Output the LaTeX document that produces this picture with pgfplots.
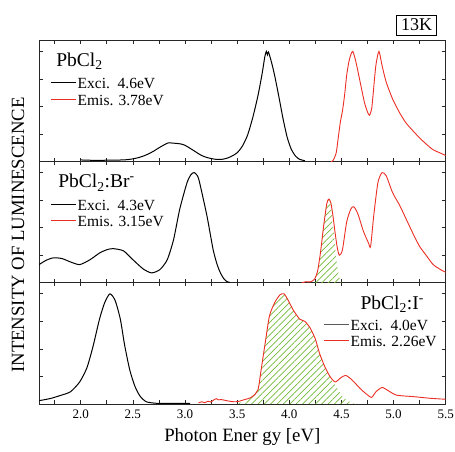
\documentclass[border=0pt]{standalone}
\usepackage{fontspec}
\setmainfont{Liberation Serif}
\usepackage{pgfplots}
\pgfplotsset{compat=1.18}
\usetikzlibrary{patterns.meta}
\definecolor{myred}{RGB}{235,45,35}
\definecolor{mygreen}{RGB}{115,185,55}
\definecolor{leggray}{RGB}{90,90,90}

\pgfplotsset{
  panel/.style={
    scale only axis, width=406.7pt, height=121.2pt,
    anchor=south west,
    xmin=1.6, xmax=5.5, ymin=0, ymax=1.1,
    xtick={2.0,2.5,3.0,3.5,4.0,4.5,5.0,5.5},
    minor xtick={1.75,2.25,2.75,3.25,3.75,4.25,4.75,5.25},
    ytick={0.25,0.5,0.75,1.0}, yticklabels={}, xticklabels={},
    tick align=inside, major tick length=3.5pt, minor tick length=3.5pt,
    axis line style={line width=0.9pt, black!85},
    every tick/.style={line width=0.7pt, black!85},
    every minor tick/.style={line width=0.7pt, black!85},
    legend cell align=left,
    legend style={draw=none, fill=none, inner sep=0pt,
      font=\fontsize{15.5}{17}\selectfont, row sep=1.5pt,
      nodes={inner sep=1.5pt}},
    legend image code/.code={\draw[#1] (0pt,1.6pt) -- (25pt,1.6pt);},
  },
  blk/.style={black, line width=1pt, smooth, tension=0.4},
  rd/.style={myred, line width=0.9pt, smooth, tension=0.4},
  hatch/.style={draw=none, forget plot, smooth, tension=0.4,
    pattern={Lines[angle=45,distance=4.5pt,line width=0.7pt]},
    pattern color=mygreen},
}

\begin{document}
\begin{tikzpicture}
\useasboundingbox (-39pt,-48pt) rectangle (416pt,404pt);

% ---------------- bottom panel: PbCl2:I- ----------------
\begin{axis}[panel, at={(0pt,0pt)},
  xticklabels={2.0,2.5,3.0,3.5,4.0,4.5,5.0,5.5},
  xticklabel style={font=\fontsize{13}{13}\selectfont, yshift=-2.5pt},
  /pgf/number format/assume math mode=true,
  xlabel={Photon Ener gy [eV]},
  xlabel style={font=\fontsize{18.8}{19}\selectfont, yshift=-3pt},
  legend style={at={(rel axis cs:0.698,0.705)}, anchor=north west}]
\addplot[hatch] coordinates {
(3.50,0.00) (3.55,0.02) (3.60,0.035) (3.65,0.07) (3.70,0.13) (3.73,0.31)
(3.77,0.56) (3.81,0.80) (3.86,0.92) (3.91,0.99) (3.95,1.00) (3.99,0.94)
(4.04,0.85) (4.10,0.77) (4.15,0.75) (4.20,0.69) (4.25,0.59) (4.29,0.46)
(4.34,0.34) (4.39,0.25) (4.44,0.17) (4.48,0.11) (4.52,0.06) (4.56,0.03)
(4.60,0.01) (4.63,0.00)} \closedcycle;
\addplot[blk, forget plot] coordinates {
(1.60,0.030) (1.71,0.050) (1.80,0.076) (1.90,0.11) (1.99,0.20) (2.06,0.33)
(2.12,0.53) (2.18,0.77) (2.23,0.92) (2.28,1.00) (2.33,0.94) (2.38,0.77)
(2.42,0.54) (2.47,0.31) (2.52,0.16) (2.57,0.07) (2.63,0.02) (2.73,0.006)
(2.85,0.005) (3.00,0.005) (3.05,0.005)};
\addlegendimage{leggray, line width=1pt}
\addlegendentry{Exci.~~4.0eV}
\addplot[rd] coordinates {
(3.13,0.010) (3.16,0.020) (3.19,0.012) (3.22,0.025) (3.25,0.018) (3.28,0.04)
(3.30,0.048) (3.32,0.038) (3.35,0.040) (3.40,0.030) (3.45,0.022) (3.48,0.020)
(3.52,0.025) (3.57,0.040) (3.61,0.050) (3.65,0.07) (3.70,0.13) (3.73,0.31)
(3.77,0.56) (3.81,0.80) (3.86,0.92) (3.91,0.99) (3.95,1.00) (3.99,0.94)
(4.04,0.85) (4.10,0.77) (4.15,0.75) (4.20,0.69) (4.25,0.59) (4.29,0.46)
(4.34,0.34) (4.39,0.25) (4.44,0.20) (4.49,0.235) (4.54,0.26) (4.60,0.22)
(4.68,0.14) (4.74,0.09) (4.79,0.06) (4.83,0.11) (4.89,0.15) (4.95,0.12)
(5.03,0.08) (5.19,0.067) (5.35,0.052) (5.50,0.043)};
\addlegendentry{Emis. 2.26eV}
\node[anchor=base west, font=\fontsize{19.5}{20}\selectfont]
  at (rel axis cs:0.782,0.777) {PbCl\textsubscript{2}:I\textsuperscript{-}};
\end{axis}

% ---------------- middle panel: PbCl2:Br- ----------------
\begin{axis}[panel, at={(0pt,121.2pt)},
  legend style={at={(rel axis cs:0.027,0.695)}, anchor=north west}]
\addplot[hatch] coordinates {
(4.20,0.00) (4.24,0.02) (4.27,0.10) (4.30,0.28) (4.33,0.52) (4.36,0.72)
(4.38,0.76) (4.40,0.70) (4.42,0.52) (4.44,0.32) (4.46,0.15) (4.48,0.05)
(4.50,0.00)} \closedcycle;
\addplot[blk] coordinates {
(1.60,0.165) (1.67,0.205) (1.74,0.227) (1.82,0.22) (1.90,0.19) (1.99,0.165)
(2.09,0.21) (2.18,0.27) (2.25,0.30) (2.31,0.31) (2.41,0.29) (2.50,0.21)
(2.60,0.125) (2.68,0.09) (2.76,0.12) (2.83,0.21) (2.89,0.39) (2.95,0.67)
(3.02,0.91) (3.06,0.985) (3.09,1.00) (3.12,0.97) (3.14,0.91) (3.21,0.61)
(3.27,0.30) (3.31,0.16) (3.34,0.09) (3.37,0.04) (3.40,0.012) (3.43,0.003)};
\addlegendentry{Exci.~~4.3eV}
\addplot[rd] coordinates {
(4.12,0.00) (4.16,0.010) (4.20,0.008) (4.24,0.03) (4.27,0.10) (4.30,0.28)
(4.33,0.52) (4.36,0.72) (4.38,0.76) (4.40,0.72) (4.42,0.60) (4.44,0.45)
(4.46,0.32) (4.48,0.25) (4.51,0.30) (4.55,0.55) (4.59,0.67) (4.62,0.69)
(4.66,0.62) (4.71,0.47) (4.76,0.36) (4.78,0.33) (4.81,0.61) (4.85,0.91)
(4.89,1.00) (4.93,0.97) (4.99,0.82) (5.06,0.70) (5.12,0.58) (5.19,0.44)
(5.25,0.33) (5.32,0.24) (5.38,0.165) (5.45,0.12) (5.50,0.095)};
\addlegendentry{Emis. 3.15eV}
\node[anchor=base west, font=\fontsize{19.5}{20}\selectfont]
  at (rel axis cs:0.039,0.783) {PbCl\textsubscript{2}:Br\textsuperscript{-}};
\end{axis}

% ---------------- top panel: PbCl2 ----------------
\begin{axis}[panel, at={(0pt,242.4pt)},
  legend style={at={(rel axis cs:0.027,0.70)}, anchor=north west}]
\addplot[blk] coordinates {
(2.00,0.015) (2.10,0.012) (2.20,0.012) (2.30,0.013) (2.40,0.015) (2.45,0.018)
(2.50,0.025) (2.55,0.035) (2.60,0.05) (2.65,0.07) (2.70,0.095) (2.75,0.125)
(2.80,0.152) (2.84,0.17) (2.88,0.168) (2.92,0.165) (2.96,0.16) (3.00,0.148)
(3.05,0.12) (3.10,0.09) (3.15,0.06) (3.20,0.04) (3.25,0.028) (3.30,0.02)
(3.35,0.02) (3.40,0.03) (3.45,0.05) (3.50,0.08) (3.55,0.14) (3.60,0.24)
(3.65,0.40) (3.70,0.60) (3.74,0.80) (3.765,0.95) (3.78,1.00) (3.79,0.97)
(3.80,0.995) (3.83,0.90) (3.86,0.78) (3.90,0.59) (3.94,0.39) (3.98,0.22)
(4.02,0.11) (4.06,0.05) (4.10,0.02) (4.15,0.008)};
\addlegendentry{Exci.~~4.6eV}
\addplot[rd] coordinates {
(4.40,0.00) (4.42,0.01) (4.45,0.08) (4.47,0.22) (4.49,0.36) (4.51,0.46)
(4.53,0.60) (4.55,0.78) (4.57,0.90) (4.59,0.97) (4.61,1.00) (4.64,0.90)
(4.68,0.72) (4.72,0.54) (4.75,0.45) (4.77,0.42) (4.79,0.48) (4.80,0.57)
(4.83,0.87) (4.86,1.00) (4.89,0.87) (4.93,0.72) (4.99,0.57) (5.06,0.44)
(5.12,0.35) (5.19,0.275) (5.25,0.215) (5.32,0.153) (5.38,0.107) (5.45,0.077)
(5.50,0.055)};
\addlegendentry{Emis. 3.78eV}
\node[anchor=base west, font=\fontsize{19.5}{20}\selectfont]
  at (rel axis cs:0.034,0.785) {PbCl\textsubscript{2}};
\end{axis}

\node[rotate=90, font=\fontsize{18.7}{19}\selectfont] at (-21pt,169pt)
  {INTENSITY OF LUMINESCENCE};
\node[draw, line width=0.8pt, minimum width=40pt, minimum height=20pt,
  inner sep=1pt, font=\fontsize{18}{18}\selectfont] at (377.7pt,379pt) {13K};
\end{tikzpicture}
\end{document}
